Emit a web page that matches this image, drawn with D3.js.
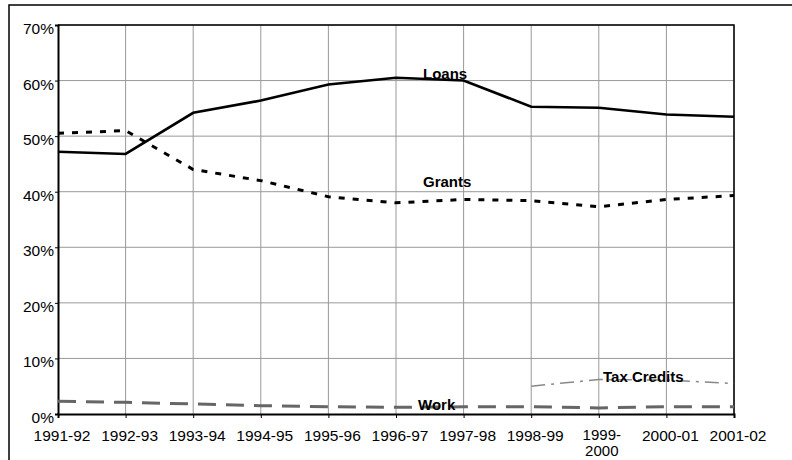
<!DOCTYPE html>
<html>
<head>
<meta charset="utf-8">
<script src="https://cdn.jsdelivr.net/npm/d3@7"></script>
<style>
  body { margin: 0; background: #fff; }
  svg { display: block; }
  svg text { font-family: "Liberation Sans", Arial, sans-serif; fill: #000; }
</style>
</head>
<body>
<svg id="chart" width="792" height="460"></svg>
<script>
// categories (school years)
const years = ["1991-92", "1992-93", "1993-94", "1994-95", "1995-96", "1996-97",
  "1997-98", "1998-99", "1999-2000", "2000-01", "2001-02"];

// series values, percent of total aid
const loans = [47.2, 46.8, 54.2, 56.4, 59.3, 60.5, 60.0, 55.3, 55.1, 53.9, 53.5];
const grants = [50.5, 51.0, 44.0, 42.0, 39.1, 38.0, 38.6, 38.4, 37.3, 38.6, 39.3];
const work = [2.3, 2.1, 1.8, 1.5, 1.3, 1.2, 1.3, 1.3, 1.1, 1.3, 1.3];
const taxCredits = [null, null, null, null, null, null, null, 5.0, 6.2, 6.1, 5.5];

const yTicks = [0, 10, 20, 30, 40, 50, 60, 70];

const svg = d3.select("#chart"),
  plotL = 58, plotR = 734, plotT = 25, plotB = 414;

const x = d3.scalePoint().domain(years).range([plotL, plotR]);
const y = d3.scaleLinear().domain([0, 70]).range([plotB, plotT]);

// outer frame
svg.append("rect")
  .attr("x", 9).attr("y", 5)
  .attr("width", 800).attr("height", 470)
  .attr("fill", "none").attr("stroke", "#000").attr("stroke-width", 1.5);

// grid
svg.append("g").selectAll("line").data(yTicks.slice(1)).join("line")
  .attr("x1", plotL).attr("x2", plotR)
  .attr("y1", d => y(d)).attr("y2", d => y(d))
  .attr("stroke", "#999").attr("stroke-width", 1);
svg.append("g").selectAll("line").data(years.slice(1)).join("line")
  .attr("x1", d => x(d)).attr("x2", d => x(d))
  .attr("y1", plotT).attr("y2", plotB)
  .attr("stroke", "#999").attr("stroke-width", 1);

// plot border top / right
svg.append("path")
  .attr("d", `M${plotL},${plotT}H${plotR}V${plotB}`)
  .attr("fill", "none").attr("stroke", "#000").attr("stroke-width", 1.5);

// axes (lines and ticks only, labels drawn below)
const yAxis = svg.append("g")
  .attr("transform", `translate(${plotL},0)`)
  .call(d3.axisLeft(y).tickValues(yTicks).tickSize(3).tickFormat(""));
const xAxis = svg.append("g")
  .attr("transform", `translate(0,${plotB})`)
  .call(d3.axisBottom(x).tickSize(4).tickFormat(""));

[yAxis, xAxis].forEach(g => {
  g.select(".domain").attr("stroke", "#000").attr("stroke-width", 2);
  g.selectAll(".tick line").attr("stroke", "#000");
});

// y labels
svg.append("g").selectAll("text").data(yTicks).join("text")
  .attr("x", plotL - 4)
  .attr("y", d => y(d) + 9)
  .attr("text-anchor", "end")
  .attr("font-size", 15.5)
  .text(d => d + "%");

// x labels, "1999-2000" wraps
const xl = svg.append("g").selectAll("text").data(years).join("text")
  .attr("x", d => x(d) + 4)
  .attr("y", 441)
  .attr("text-anchor", "middle")
  .attr("font-size", 15.5);
xl.each(function(d) {
  const t = d3.select(this);
  if (d === "1999-2000") {
    t.attr("y", 440).attr("font-size", 15);
    t.append("tspan").attr("x", x(d) + 3).text("1999-");
    t.append("tspan").attr("x", x(d) + 3).attr("dy", 16).text("2000");
  } else {
    t.text(d);
  }
});

// series lines
const line = d3.line()
  .defined(d => d != null)
  .x((d, i) => x(years[i]))
  .y(d => y(d));

const series = [
  { vals: loans, stroke: "#000", width: 2.6, dash: null },
  { vals: grants, stroke: "#000", width: 3, dash: "6,8" },
  { vals: work, stroke: "#666", width: 3, dash: "18,10" },
  { vals: taxCredits, stroke: "#888", width: 1.5, dash: "14,6,3,6" }
];
svg.append("g").selectAll("path").data(series).join("path")
  .attr("d", d => line(d.vals))
  .attr("fill", "none")
  .attr("stroke", d => d.stroke)
  .attr("stroke-width", d => d.width)
  .attr("stroke-dasharray", d => d.dash);

// series labels
const labels = [
  { text: "Loans", x: 423, y: 79 },
  { text: "Grants", x: 423, y: 187 },
  { text: "Tax Credits", x: 603, y: 382 },
  { text: "Work", x: 418, y: 410 }
];
svg.append("g").selectAll("text").data(labels).join("text")
  .attr("x", d => d.x).attr("y", d => d.y)
  .attr("font-size", 15).attr("font-weight", "bold")
  .text(d => d.text);
</script>
</body>
</html>
